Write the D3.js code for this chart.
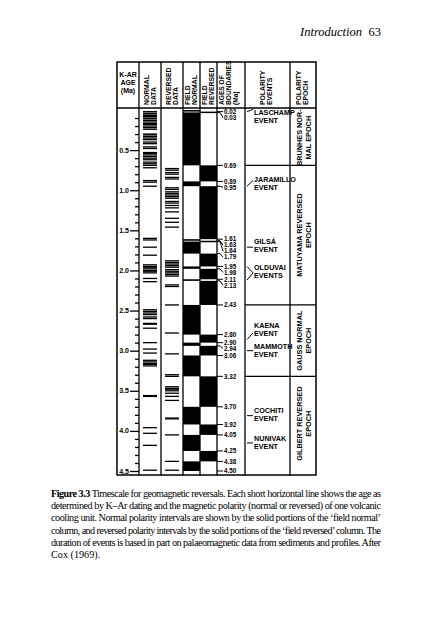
<!DOCTYPE html><html><head><meta charset="utf-8">
<script src="https://cdn.jsdelivr.net/npm/d3@7"></script>
<style>body{margin:0;background:#fff}</style></head><body>
<svg id="c" width="431" height="640"></svg>
<script>
const boundaries=[0.02,0.03,0.69,0.89,0.95,1.61,1.63,1.64,1.79,1.95,1.98,2.11,2.13,2.43,2.80,2.90,2.94,3.06,3.32,3.70,3.92,4.05,4.25,4.38,4.50];
const normalIntervals=[[0,0.02],[0.03,0.69],[0.89,0.95],[1.61,1.63],[1.64,1.79],[1.95,1.98],[2.11,2.13],[2.43,2.80],[2.90,2.94],[3.06,3.32],[3.70,3.92],[4.05,4.25],[4.38,4.50]];
const normalData=[0.02,0.04,0.05,0.07,0.08,0.1,0.11,0.13,0.15,0.17,0.18,0.2,0.22,0.24,0.3,0.31,0.33,0.35,0.37,0.4,0.42,0.46,0.48,0.53,0.54,0.56,0.58,0.6,0.62,0.65,0.67,0.69,0.72,0.88,0.9,0.95,1.6,1.62,1.71,1.81,1.93,1.95,1.96,1.98,2.0,2.01,2.03,2.1,2.14,2.49,2.51,2.53,2.55,2.58,2.6,2.66,2.67,2.72,2.9,2.98,3.03,3.12,3.14,3.16,3.17,3.19,3.56,3.57,3.96,4.03,4.18,4.49];
const reversedData=[0.73,0.75,0.78,0.8,0.84,0.86,0.97,0.99,1.02,1.04,1.06,1.08,1.1,1.14,1.16,1.19,1.22,1.27,1.35,1.4,1.46,1.88,1.9,1.92,1.94,1.96,1.99,2.01,2.03,2.05,2.07,2.18,2.2,2.43,2.78,3.04,3.3,3.32,3.45,3.47,3.48,3.5,3.53,3.57,3.62,3.84,3.85,4.05,4.38,4.49];
const events=[["LASCHAMP","EVENT",0.06],["JARAMILLO","EVENT",0.9],["GILSÁ","EVENT",1.67],["OLDUVAI","EVENTS",2.0],["KAENA","EVENT",2.72],["MAMMOTH","EVENT",2.98],["COCHITI","EVENT",3.78],["NUNIVAK","EVENT",4.12]];
const epochs=[["BRUNHES NOR-","MAL EPOCH",0,0.69],["MATUYAMA REVERSED","EPOCH",0.69,2.43],["GAUSS NORMAL","EPOCH",2.43,3.32],["GILBERT REVERSED","EPOCH",3.32,4.5]];
const ageTicks=[0.5,1.0,1.5,2.0,2.5,3.0,3.5,4.0,4.5];

const svg=d3.select("#c");
const y=d3.scaleLinear().domain([0,4.5]).range([110,471]);
const X={l:117,a:139,n:161,r:183,fn:200,fr:217,ag:245,ev:290,ep:316};
const T0=62,hb=108,bot=475;
const F="Liberation Sans Narrow, Liberation Sans";
const g=svg.append("g");
const revIntervals=[];let prev=0;
normalIntervals.forEach(([a,b])=>{if(a>prev)revIntervals.push([prev,a]);prev=b;});
g.selectAll(".fn").data(normalIntervals).join("rect").attr("x",X.r).attr("width",X.fn-X.r).attr("y",d=>y(d[0])).attr("height",d=>Math.max(1.5,y(d[1])-y(d[0]))).attr("fill","#000");
g.selectAll(".fr").data(revIntervals).join("rect").attr("x",X.fn).attr("width",X.fr-X.fn).attr("y",d=>y(d[0])).attr("height",d=>Math.max(1.5,y(d[1])-y(d[0]))).attr("fill","#000");
g.selectAll(".nd").data(normalData).join("line").attr("x1",X.a+4).attr("x2",X.n-4).attr("y1",d=>y(d)).attr("y2",d=>y(d)).attr("stroke","#000").attr("stroke-width",1.3);
g.selectAll(".rd").data(reversedData).join("line").attr("x1",X.n+4).attr("x2",X.r-4).attr("y1",d=>y(d)).attr("y2",d=>y(d)).attr("stroke","#000").attr("stroke-width",1.3);
const ln=(x1,y1,x2,y2,w=1.3)=>g.append("line").attr("x1",x1).attr("y1",y1).attr("x2",x2).attr("y2",y2).attr("stroke","#000").attr("stroke-width",w);
g.append("rect").attr("x",X.l).attr("y",T0).attr("width",X.ep-X.l).attr("height",bot-T0).attr("fill","none").attr("stroke","#000").attr("stroke-width",1.5);
ln(X.l,hb,X.ep,hb);
[X.a,X.n,X.r,X.fn,X.fr,X.ag,X.ev].forEach(x=>ln(x,T0,x,bot));
const ax=d3.axisLeft(y).tickValues(d3.range(1,46).map(i=>i/10)).tickSize(4).tickFormat("");
const ag=g.append("g").attr("transform",`translate(${X.a},0)`).call(ax);
ag.select(".domain").remove();ag.selectAll("line").attr("stroke-width",1.3);
ag.selectAll(".tick").filter(d=>Math.abs(d*2-Math.round(d*2))<1e-6).select("line").attr("x2",-9);
g.selectAll(".al").data(ageTicks).join("text").attr("x",X.a-10).attr("text-anchor","end").attr("y",d=>y(d)+2.5).text(d=>d.toFixed(1)).attr("font-family",F).attr("font-weight","bold").attr("font-size",7);
const pos=[];let last=-1e9;
boundaries.forEach(b=>{let p=Math.max(y(b),last+6);pos.push(p);last=p;});
boundaries.forEach((b,i)=>{
  g.append("path").attr("d",`M${X.fr},${y(b)}L${X.fr+3},${y(b)}L${X.fr+6},${pos[i]}`).attr("fill","none").attr("stroke","#000").attr("stroke-width",1);
  g.append("text").attr("x",X.fr+7).attr("y",pos[i]+2.3).text(b.toFixed(2)).attr("font-family",F).attr("font-weight","bold").attr("font-size",6.3);
});
events.forEach(([a,b,t])=>{
  const ty=y(t);
  g.append("text").attr("x",X.ag+9).attr("y",ty).text(a).attr("font-family",F).attr("font-weight","bold").attr("font-size",7.2);
  g.append("text").attr("x",X.ag+9).attr("y",ty+8).text(b).attr("font-family",F).attr("font-weight","bold").attr("font-size",7.2);
});
ln(X.ag+2,y(0.02),X.ag+8,y(0.03)-3,1);
ln(X.ag+2,y(0.95),X.ag+8,y(0.89)-1,1);
ln(X.ag+2,y(1.71),X.ag+8,y(1.71),1);
g.append("path").attr("d",`M${X.ag+2},${y(1.95)}L${X.ag+8},${y(2.03)}L${X.ag+2},${y(2.12)}`).attr("fill","none").attr("stroke","#000");
ln(X.ag+2,y(2.86),X.ag+8,y(2.78),1);
ln(X.ag+2,y(3.0),X.ag+8,y(3.0),1);
ln(X.ag+2,y(3.81),X.ag+8,y(3.81),1);
ln(X.ag+2,y(4.15),X.ag+8,y(4.15),1);
[0.69,2.43,3.32].forEach(v=>ln(X.ag,y(v),X.ep,y(v)));
epochs.forEach(([a,b,s,e])=>{
  const cy=(y(s)+y(e))/2,cx=(X.ev+X.ep)/2;
  const t=g.append("text").attr("transform",`translate(${cx},${cy}) rotate(-90)`).attr("text-anchor","middle").attr("font-family",F).attr("font-weight","bold").attr("font-size",7.3);
  t.append("tspan").attr("x",0).attr("dy",-1).text(a);
  t.append("tspan").attr("x",0).attr("dy",8.5).text(b);
});
const hf=(x,lines,fs=6.8)=>{const t=g.append("text").attr("transform",`translate(${x},${hb-3}) rotate(-90)`).attr("font-family",F).attr("font-weight","bold").attr("font-size",fs);
  lines.forEach((l,i)=>t.append("tspan").attr("x",0).attr("dy",i?7.3:0).text(l));};
hf(X.a+10,["NORMAL","DATA"]);hf(X.n+10,["REVERSED","DATA"]);hf(X.r+7,["FIELD","NORMAL"]);hf(X.fn+7,["FIELD","REVERSED"]);
hf(X.fr+6.5,["AGES OF","BOUNDARIES","(Ma)"],6.6);hf(X.ag+20,["POLARITY","EVENTS"]);hf(X.ev+11,["POLARITY","EPOCH"]);
["K-AR","AGE","(Ma)"].forEach((s,i)=>g.append("text").attr("x",(X.l+X.a)/2).attr("y",77+i*8).attr("text-anchor","middle").text(s).attr("font-family",F).attr("font-weight","bold").attr("font-size",7));
svg.append("text").attr("x",300).attr("y",36).text("Introduction").attr("font-family","Liberation Serif").attr("font-style","italic").attr("font-size",12.5);
svg.append("text").attr("x",381).attr("y",36).attr("text-anchor","end").text("63").attr("font-family","Liberation Serif").attr("font-size",12.5);
const cap=["Timescale for geomagnetic reversals. Each short horizontal line shows the age as","determined by K–Ar dating and the magnetic polarity (normal or reversed) of one volcanic","cooling unit. Normal polarity intervals are shown by the solid portions of the ‘field normal’","column, and reversed polarity intervals by the solid portions of the ‘field reversed’ column. The","duration of events is based in part on palaeomagnetic data from sediments and profiles. After","Cox (1969)."];
cap.forEach((s,i)=>{const t=svg.append("text").attr("x",51).attr("y",497+i*12.2).attr("font-family","Liberation Serif").attr("font-size",10.2);
  if(i==0){t.append("tspan").attr("font-weight","bold").text("Figure 3.3");t.append("tspan").text(" "+s);}else t.text(s);
  if(i<5)t.attr("textLength",330).attr("lengthAdjust","spacing");});
</script></body></html>
